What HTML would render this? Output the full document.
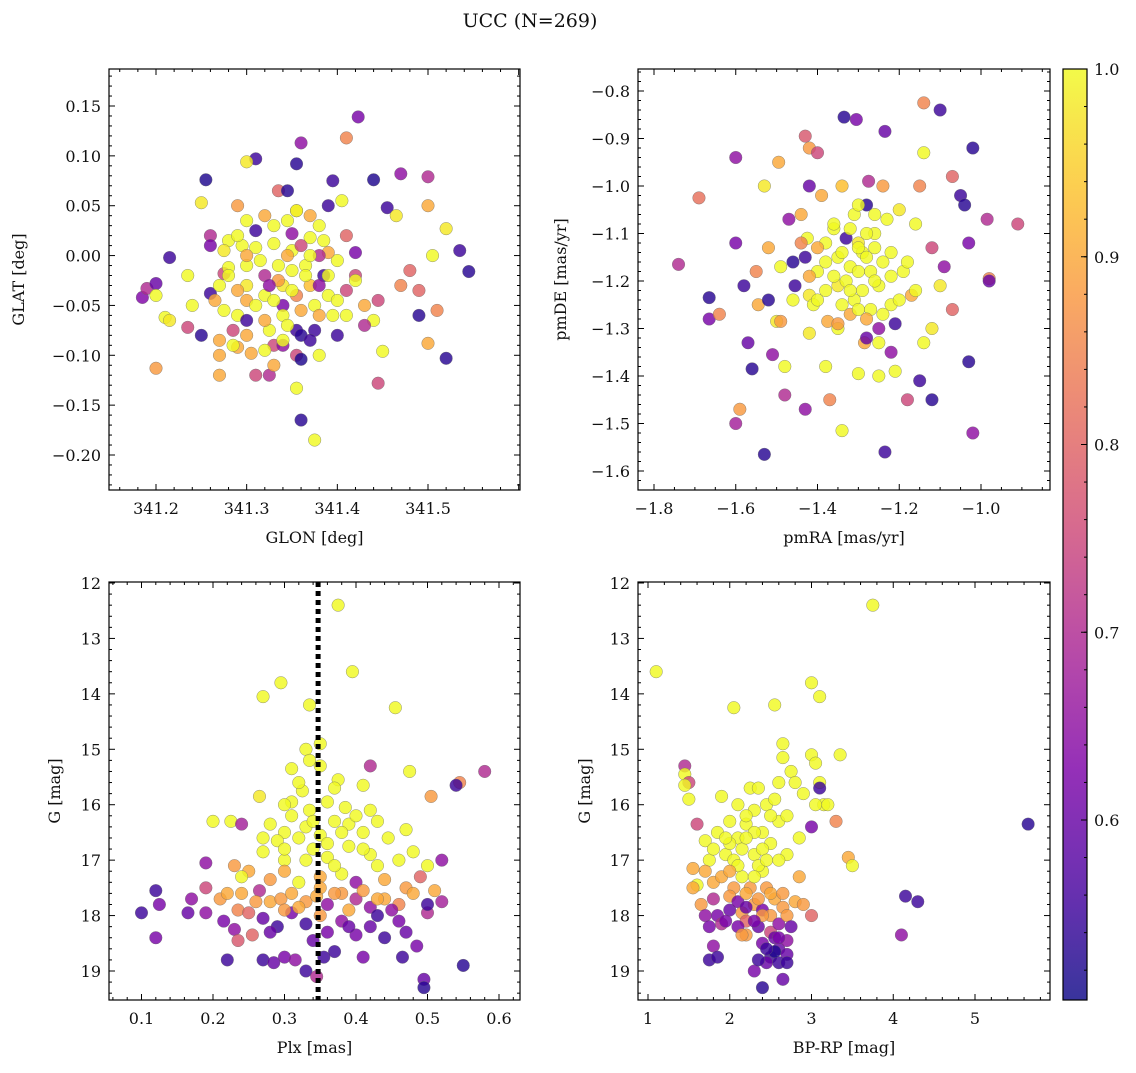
<!DOCTYPE html>
<html><head><meta charset="utf-8"><style>
html,body{margin:0;padding:0;background:#fff;}
svg text{font-family:"DejaVu Serif","Liberation Serif",serif;fill:#111;}
</style></head><body>
<svg id="fig" xmlns="http://www.w3.org/2000/svg" width="1136" height="1068" viewBox="0 0 1136 1068">
<rect width="1136" height="1068" fill="#fff"/>
<text x="530" y="27" font-size="19" text-anchor="middle">UCC (N=269)</text>
<g id="layer"></g>
</svg>
<script>
// ---- Panel 1: GLON / GLAT ----
const p1Lon=[341.255,341.310,341.355,341.36,341.41,341.423,341.395,341.44,341.47,341.50,341.335,341.30,341.405,341.25,341.29,341.32,341.355,341.39,341.455,341.465,341.50,341.52,341.535,341.545,341.505,341.48,341.49,341.47,341.445,341.43,341.42,341.40,341.44,341.45,341.445,341.49,341.50,341.51,341.52,341.185,341.19,341.20,341.20,341.215,341.21,341.215,341.20,341.235,341.24,341.235,341.25,341.26,341.26,341.26,341.275,341.27,341.275,341.27,341.27,341.27,341.28,341.275,341.28,341.29,341.285,341.29,341.295,341.30,341.30,341.30,341.305,341.31,341.31,341.315,341.32,341.32,341.325,341.33,341.325,341.33,341.335,341.34,341.34,341.34,341.345,341.35,341.35,341.35,341.355,341.355,341.355,341.355,341.36,341.36,341.365,341.37,341.37,341.375,341.375,341.38,341.375,341.38,341.385,341.39,341.39,341.395,341.40,341.41,341.41,341.42,341.43,341.345,341.30,341.34,341.36,341.38,
341.28,341.29,341.30,341.31,341.32,341.33,341.335,341.345,341.35,341.36,341.365,341.37,341.38,341.385,341.39,341.33,341.31,341.29,341.265,341.285,341.30,341.34,341.37,341.36,341.325,341.345,341.40,341.41,341.42,341.355,341.37,341.32,341.33,341.38,341.30];
const p1Lat=[0.076,0.097,0.092,0.113,0.118,0.139,0.075,0.076,0.082,0.079,0.065,0.094,0.055,0.053,0.050,0.040,0.045,0.050,0.048,0.040,0.050,0.027,0.005,-0.016,0.000,-0.015,-0.035,-0.030,-0.045,-0.050,-0.020,-0.005,-0.065,-0.096,-0.128,-0.060,-0.088,-0.055,-0.103,-0.042,-0.033,-0.028,-0.040,-0.002,-0.062,-0.065,-0.113,-0.020,-0.05,-0.072,-0.080,0.020,0.010,-0.038,-0.018,-0.03,-0.055,-0.085,-0.100,-0.120,0.015,0.005,-0.012,-0.06,-0.075,-0.092,0.010,-0.030,-0.045,-0.065,-0.098,-0.120,0.025,-0.005,-0.02,-0.04,-0.075,-0.09,-0.12,0.012,-0.01,-0.03,-0.05,-0.06,0.035,0.022,0.005,-0.015,-0.04,-0.075,-0.100,-0.133,-0.08,-0.165,-0.01,-0.03,0.018,-0.05,-0.075,-0.100,-0.185,0.03,-0.02,0.003,-0.04,-0.06,-0.08,0.02,-0.035,0.003,-0.07,0.065,0.035,-0.09,-0.104,0.0,
-0.02,-0.035,-0.01,-0.05,-0.065,-0.045,-0.025,-0.07,-0.035,-0.055,-0.02,0.0,-0.06,0.015,-0.02,0.03,0.008,0.02,-0.045,-0.09,-0.08,-0.085,-0.085,0.01,-0.03,0.0,-0.045,-0.06,-0.025,0.045,0.04,-0.095,-0.11,-0.03,0.0];
const p1Prob=[0.52,0.55,0.53,0.65,0.85,0.62,0.55,0.52,0.65,0.7,0.8,0.98,1.0,0.98,0.88,0.9,0.92,0.55,0.55,0.98,0.9,0.98,0.55,0.53,1.0,0.8,0.8,0.85,0.75,0.9,0.75,1.0,1.0,1.0,0.75,0.53,0.9,0.85,0.53,0.63,0.7,0.6,1.0,0.55,1.0,0.98,0.88,1.0,1.0,0.75,0.53,0.7,0.62,0.55,0.75,1.0,1.0,0.9,0.9,0.9,1.0,0.98,1.0,1.0,0.75,0.9,1.0,0.98,0.9,0.55,0.9,0.75,0.55,1.0,0.7,1.0,1.0,0.75,0.7,1.0,1.0,0.98,0.62,1.0,1.0,0.65,1.0,1.0,0.85,0.55,0.75,1.0,0.53,0.53,1.0,0.93,1.0,1.0,0.55,1.0,1.0,1.0,0.55,0.9,1.0,1.0,0.55,0.8,0.75,0.62,0.7,0.53,1.0,0.65,0.52,0.7,
1.0,0.9,1.0,1.0,0.9,1.0,0.88,1.0,1.0,0.9,1.0,1.0,0.9,1.0,1.0,1.0,1.0,1.0,0.9,1.0,0.9,1.0,0.55,0.75,0.65,0.9,1.0,1.0,1.0,1.0,0.9,1.0,0.9,0.65,0.9];
// ---- Panel 2: pmRA / pmDE ----
const p2Ra=[-1.74,-1.69,-1.665,-1.665,-1.64,-1.60,-1.60,-1.58,-1.59,-1.60,-1.57,-1.56,-1.55,-1.545,-1.53,-1.52,-1.52,-1.51,-1.50,-1.53,-1.49,-1.495,-1.49,-1.48,-1.48,-1.47,-1.46,-1.455,-1.43,-1.43,-1.44,-1.42,-1.42,-1.425,-1.42,-1.42,-1.43,-1.41,-1.40,-1.40,-1.39,-1.38,-1.375,-1.38,-1.37,-1.36,-1.35,-1.35,-1.35,-1.34,-1.34,-1.335,-1.33,-1.32,-1.32,-1.31,-1.305,-1.30,-1.30,-1.29,-1.29,-1.285,-1.28,-1.275,-1.27,-1.27,-1.26,-1.25,-1.25,-1.25,-1.24,-1.235,-1.235,-1.23,-1.22,-1.22,-1.22,-1.21,-1.21,-1.20,-1.19,-1.18,-1.17,-1.16,-1.15,-1.15,-1.14,-1.14,-1.14,-1.12,-1.12,-1.12,-1.10,-1.10,-1.09,-1.07,-1.07,-1.05,-1.04,-1.03,-1.03,-1.02,-1.02,-0.985,-0.98,-0.98,-0.91,-1.33,-1.26,-1.31,-1.28,
-1.38,-1.36,-1.34,-1.32,-1.30,-1.28,-1.26,-1.24,-1.22,-1.30,-1.34,-1.38,-1.40,-1.36,-1.32,-1.28,-1.26,-1.30,-1.24,-1.28,-1.40,-1.42,-1.18,-1.16,-1.20,-1.44,-1.46,-1.35,-1.25,-1.30];
const p2De=[-1.165,-1.025,-1.235,-1.28,-1.27,-0.94,-1.12,-1.21,-1.47,-1.50,-1.33,-1.385,-1.18,-1.25,-1.00,-1.13,-1.24,-1.355,-1.285,-1.565,-1.285,-0.95,-1.17,-1.38,-1.44,-1.07,-1.16,-1.21,-0.895,-1.15,-1.06,-0.92,-1.00,-1.11,-1.23,-1.31,-1.47,-1.25,-1.18,-0.93,-1.02,-1.12,-1.285,-1.38,-1.45,-1.09,-1.15,-1.21,-1.30,-1.515,-1.00,-0.855,-1.20,-1.17,-1.27,-1.06,-0.86,-1.12,-1.395,-1.14,-1.22,-1.33,-1.04,-0.99,-1.18,-1.26,-1.10,-1.21,-1.30,-1.40,-1.00,-0.885,-1.56,-1.07,-1.14,-1.25,-1.35,-1.29,-1.39,-1.05,-1.18,-1.45,-1.23,-1.08,-1.00,-1.41,-1.33,-0.93,-0.825,-1.13,-1.30,-1.45,-0.84,-1.21,-1.17,-0.98,-1.26,-1.02,-1.04,-1.12,-1.37,-0.92,-1.52,-1.07,-1.195,-1.20,-1.08,-1.11,-1.13,-1.24,-1.32,
-1.16,-1.19,-1.14,-1.22,-1.18,-1.15,-1.20,-1.16,-1.19,-1.26,-1.25,-1.22,-1.13,-1.08,-1.09,-1.10,-1.06,-1.04,-1.27,-1.28,-1.24,-1.19,-1.16,-1.22,-1.24,-1.12,-1.24,-1.29,-1.33,-1.13];
const p2Prob=[0.7,0.82,0.53,0.62,0.85,0.65,0.62,0.55,0.88,0.68,0.6,0.53,0.85,0.9,0.98,0.9,0.53,0.65,0.98,0.53,0.88,0.9,1.0,1.0,0.7,0.65,0.53,0.55,0.78,0.55,0.9,0.88,0.6,1.0,0.98,0.98,0.65,1.0,1.0,0.75,0.9,1.0,0.9,1.0,0.85,1.0,1.0,0.98,1.0,1.0,0.93,0.53,1.0,1.0,0.9,1.0,0.62,0.98,1.0,1.0,1.0,0.9,0.53,0.7,1.0,1.0,1.0,1.0,0.65,1.0,0.88,0.6,0.55,1.0,1.0,1.0,0.65,0.55,1.0,0.98,1.0,0.75,0.9,1.0,0.85,0.55,1.0,1.0,0.85,0.75,0.98,0.53,0.55,0.98,0.65,0.8,0.8,0.55,0.53,0.62,0.53,0.53,0.65,0.7,0.85,0.6,0.75,0.55,1.0,1.0,0.6,
1.0,1.0,1.0,1.0,1.0,1.0,1.0,1.0,1.0,1.0,1.0,1.0,0.9,1.0,1.0,1.0,1.0,1.0,1.0,0.9,1.0,0.9,1.0,1.0,1.0,0.85,1.0,0.88,1.0,1.0];
// ---- Panel 3: Plx / G ----
const p3Plx=[0.375,0.295,0.395,0.27,0.335,0.455,0.35,0.33,0.335,0.35,0.31,0.42,0.475,0.58,0.545,0.54,0.375,0.37,0.265,0.325,0.31,0.41,0.505,0.20,0.225,0.24,0.28,0.3,0.33,0.35,0.37,0.39,0.41,0.43,0.445,0.47,0.29,0.27,0.3,0.34,0.36,0.39,0.42,0.46,0.48,0.50,0.52,0.19,0.23,0.25,0.24,0.28,0.30,0.32,0.35,0.38,0.4,0.44,0.47,0.49,0.51,0.17,0.19,0.21,0.22,0.235,0.265,0.28,0.295,0.31,0.33,0.345,0.36,0.38,0.4,0.42,0.44,0.46,0.48,0.50,0.52,0.12,0.10,0.125,0.12,0.165,0.19,0.215,0.23,0.235,0.255,0.27,0.29,0.31,0.33,0.35,0.38,0.40,0.42,0.44,0.46,0.47,0.485,0.22,0.27,0.285,0.30,0.315,0.33,0.355,0.41,0.465,0.495,0.495,0.55,0.50,0.345,0.335,0.385,0.42,
0.31,0.32,0.34,0.36,0.38,0.40,0.3,0.33,0.37,0.41,0.43,0.27,0.35,0.37,0.39,0.41,0.43,0.32,0.30,0.26,0.24,0.45,0.39,0.36,0.43,0.25,0.28,0.34,0.37,0.3,0.36,0.32];
const p3G=[12.4,13.8,13.6,14.05,14.2,14.25,14.9,15.0,15.2,15.3,15.35,15.3,15.4,15.4,15.6,15.65,15.55,15.7,15.85,15.75,15.95,15.65,15.85,16.3,16.3,16.35,16.35,16.5,16.4,16.55,16.3,16.35,16.5,16.3,16.6,16.45,16.65,16.85,17.0,16.8,16.95,16.75,16.9,17.0,16.85,17.1,17.0,17.05,17.1,17.2,17.3,17.35,17.2,17.4,17.3,17.25,17.4,17.35,17.5,17.3,17.55,17.7,17.5,17.7,17.6,17.9,17.55,17.75,17.7,17.6,17.75,17.65,17.8,17.6,17.7,17.85,17.7,17.8,17.6,17.95,17.75,17.55,17.95,17.8,18.4,17.95,17.95,18.1,18.25,18.45,18.35,18.05,18.2,17.95,18.15,18.0,18.1,18.35,18.2,18.4,18.1,18.3,18.55,18.8,18.8,18.85,18.75,18.8,19.0,18.75,18.75,18.75,19.15,19.3,18.9,17.8,19.1,16.1,16.05,16.1,
16.2,16.6,16.3,16.7,16.5,16.2,16.8,17.0,17.1,16.8,17.1,16.6,17.5,17.6,17.9,17.55,17.7,17.85,17.9,17.75,17.6,17.9,18.2,18.3,18.0,17.95,18.3,18.45,18.65,16.0,15.95,15.6];
const p3Prob=[1.0,1.0,1.0,1.0,1.0,1.0,1.0,1.0,1.0,1.0,1.0,0.7,1.0,0.7,0.85,0.55,1.0,1.0,0.98,1.0,1.0,1.0,0.88,1.0,1.0,0.68,1.0,1.0,1.0,1.0,1.0,1.0,1.0,1.0,1.0,1.0,1.0,1.0,1.0,1.0,1.0,1.0,1.0,1.0,1.0,1.0,0.65,0.65,0.88,0.9,1.0,0.88,0.9,1.0,0.9,1.0,0.65,0.9,0.88,0.8,0.9,0.65,0.75,0.88,0.9,0.85,0.7,0.9,0.88,0.9,0.88,0.9,0.65,0.88,0.7,0.65,0.9,0.85,0.9,0.7,0.68,0.55,0.55,0.62,0.62,0.6,0.65,0.62,0.65,0.78,0.8,0.6,0.55,0.62,0.55,0.88,0.65,0.62,0.6,0.55,0.62,0.6,0.62,0.55,0.55,0.6,0.62,0.65,0.55,0.55,0.62,0.55,0.6,0.53,0.53,0.55,0.7,1.0,1.0,1.0,
1.0,1.0,1.0,1.0,1.0,1.0,1.0,1.0,1.0,1.0,1.0,1.0,0.9,0.88,0.9,0.88,0.9,0.9,0.88,0.88,0.9,0.65,0.6,0.62,0.55,0.8,0.6,0.6,0.55,1.0,1.0,1.0];
// ---- Panel 4: BP-RP / G ----
const p4Col=[1.1,3.75,2.05,2.55,3.0,3.1,1.45,1.45,1.5,1.45,1.5,1.6,1.55,1.6,1.55,1.7,1.75,1.8,1.85,1.9,1.95,2.0,2.05,2.05,2.1,2.15,2.2,2.25,2.3,2.3,2.35,2.4,2.4,2.45,2.5,2.55,2.6,2.65,2.65,2.7,2.75,2.8,2.85,3.0,3.05,3.1,3.15,3.1,3.2,3.35,3.3,3.0,3.45,3.5,4.15,4.3,4.1,5.65,1.65,1.7,1.75,1.8,1.85,1.8,1.75,1.85,1.9,2.0,2.0,2.1,2.15,2.2,2.2,2.25,2.3,2.35,2.4,2.4,2.45,2.5,2.5,2.55,2.6,2.6,2.65,2.7,2.7,2.8,2.9,3.0,2.5,2.45,2.4,2.3,2.6,2.65,2.7,2.55,2.0,2.15,2.35,2.6,1.9,
2.1,2.2,2.3,2.2,2.4,2.5,2.3,2.45,2.1,1.95,2.0,2.2,2.35,2.5,2.65,2.7,2.4,2.3,2.2,2.1,2.55,2.45,2.35,2.6,2.75,1.95,2.15,1.7,1.8,2.6,2.7,2.9,3.05,2.85];
const p4G=[13.6,12.4,14.25,14.2,13.8,14.05,15.3,15.45,15.6,15.65,15.9,16.35,17.15,17.45,17.5,16.65,17.0,17.4,16.5,15.85,16.9,16.3,17.0,17.5,16.6,16.8,16.35,15.7,16.1,16.9,15.7,16.5,17.2,16.0,16.7,15.9,16.3,14.9,15.15,16.9,15.4,15.6,16.6,15.1,15.25,15.6,16.0,15.7,16.0,15.1,16.3,16.4,16.95,17.1,17.65,17.75,18.35,16.35,17.8,18.0,18.2,17.7,18.0,18.55,18.8,18.75,18.15,17.9,17.65,17.75,17.95,18.1,18.35,17.5,17.8,18.2,17.9,18.5,17.5,18.0,18.3,17.7,18.6,18.15,17.85,18.45,18.7,17.75,17.8,18.0,18.75,18.85,19.3,19.0,18.85,19.15,18.85,18.65,16.7,17.3,17.1,17.0,17.3,
16.0,16.2,16.5,16.6,16.8,16.2,17.3,17.0,17.1,16.6,17.2,17.6,17.7,17.6,17.6,18.0,18.0,18.1,17.85,18.2,18.4,18.6,18.8,18.4,18.2,18.1,18.35,17.2,16.8,15.6,16.2,15.8,16.0,17.3];
const p4Prob=[1.0,1.0,1.0,1.0,1.0,1.0,0.7,1.0,0.75,1.0,1.0,0.75,0.9,1.0,0.9,1.0,1.0,0.9,1.0,1.0,1.0,1.0,1.0,0.88,1.0,1.0,1.0,1.0,1.0,1.0,1.0,1.0,1.0,1.0,1.0,1.0,1.0,1.0,1.0,1.0,1.0,1.0,1.0,1.0,1.0,1.0,1.0,0.55,1.0,1.0,0.85,0.62,0.9,1.0,0.55,0.55,0.65,0.53,0.88,0.65,0.62,0.7,0.62,0.65,0.55,0.55,0.7,0.6,0.88,0.62,0.88,0.8,0.88,0.88,0.88,0.6,0.62,0.62,0.88,0.88,0.75,0.9,0.6,0.65,0.88,0.65,0.6,0.9,0.88,0.8,0.55,0.6,0.53,0.62,0.55,0.6,0.55,0.52,1.0,1.0,1.0,1.0,0.9,
1.0,1.0,1.0,1.0,1.0,1.0,1.0,1.0,1.0,1.0,0.9,0.9,0.88,0.9,0.88,0.88,0.88,0.62,0.6,0.62,0.6,0.55,0.55,0.62,0.6,0.62,0.88,0.9,1.0,1.0,1.0,1.0,1.0,0.9];
const cbTicks=[0.6,0.7,0.8,0.9,1.0];

const NS="http://www.w3.org/2000/svg";
const layer=document.getElementById('layer');
function mk(tag,attrs,parent){const e=document.createElementNS(NS,tag);for(const k in attrs)e.setAttribute(k,attrs[k]);(parent||layer).appendChild(e);return e;}
const stops=[[0,[13,8,135]],[0.125,[76,2,161]],[0.25,[126,3,168]],[0.375,[169,35,149]],[0.5,[204,71,120]],[0.625,[229,107,93]],[0.75,[248,149,64]],[0.875,[253,195,40]],[1,[240,249,33]]];
function plasma(t){t=Math.max(0,Math.min(1,t));for(let i=1;i<stops.length;i++){if(t<=stops[i][0]){const a=stops[i-1],b=stops[i];const f=(t-a[0])/(b[0]-a[0]);const c=a[1].map((v,j)=>Math.round(v+(b[1][j]-v)*f));return `rgb(${c[0]},${c[1]},${c[2]})`;}}return 'rgb(240,249,33)';}
const VMIN=0.504,VMAX=1.0;
function cmap(v){return plasma((v-VMIN)/(VMAX-VMIN));}
function lin(v0,p0,v1,p1){return v=>p0+(v-v0)*(p1-p0)/(v1-v0);}
function fmt(v,d){let s=v.toFixed(d);if(s.startsWith('-'))s='\u2212'+s.slice(1);return s;}

function panel(o){
  const g=mk('g',{});
  
  
  const {L,R,T,B,sx,sy}=o;
  const pg=mk('g',{},g);
  
  
  for(let i=0;i<o.xs.length;i++){
    const c=mk('circle',{cx:sx(o.xs[i]),cy:sy(o.ys[i]),r:6.3,fill:cmap(o.cs[i]),'fill-opacity':0.82,stroke:'#666','stroke-width':0.5,'stroke-opacity':0.7},pg);
    
    
  }
  if(o.extra)o.extra(g);
  const fr=mk('rect',{x:L,y:T,width:R-L,height:B-T,fill:'none',stroke:'#000','stroke-width':1.2},g);
  
  
  const xmin=Math.min(o.xinv(L),o.xinv(R)),xmax=Math.max(o.xinv(L),o.xinv(R));
  for(let k=Math.ceil(xmin/o.xminor-1e-6);k*o.xminor<=xmax+1e-9;k++){
    const v=k*o.xminor;const px=sx(v);if(px<L||px>R)continue;
    const major=Math.abs(v/o.xmajor-Math.round(v/o.xmajor))<1e-6;const len=major?6:3;
    mk('line',{x1:px,x2:px,y1:B,y2:B-len,stroke:'#000','stroke-width':1},g);
    mk('line',{x1:px,x2:px,y1:T,y2:T+len,stroke:'#000','stroke-width':1},g);
    if(major&&px>L+5&&px<R-5){const t=mk('text',{x:px,y:B+24,'font-size':16,'text-anchor':'middle'},g);t.textContent=fmt(v,o.xdec);
      }
  }
  const ymin=Math.min(o.yinv(T-2),o.yinv(B+2)),ymax=Math.max(o.yinv(T-2),o.yinv(B+2));
  for(let k=Math.ceil(ymin/o.yminor-1e-6);k*o.yminor<=ymax+1e-9;k++){
    const v=k*o.yminor;const py=sy(v);if(py<T-2||py>B+2)continue;
    const major=Math.abs(v/o.ymajor-Math.round(v/o.ymajor))<1e-6;const len=major?6:3;
    mk('line',{x1:L,x2:L+len,y1:py,y2:py,stroke:'#000','stroke-width':1},g);
    mk('line',{x1:R,x2:R-len,y1:py,y2:py,stroke:'#000','stroke-width':1},g);
    if(major){const t=mk('text',{x:L-8,y:py+6,'font-size':16,'text-anchor':'end'},g);t.textContent=fmt(v,o.ydec);
      }
  }
  const xl=mk('text',{x:(L+R)/2,y:B+53,'font-size':16,'text-anchor':'middle'},g);xl.textContent=o.xlabel;
  
  const yx=o.ylx,yy=(T+B)/2;
  const yl=mk('text',{x:yx,y:yy,'font-size':16,'text-anchor':'middle',transform:`rotate(-90 ${yx} ${yy})`},g);yl.textContent=o.ylabel;
  
}

{const sx=lin(341.2,156,341.5,428),sy=lin(0.15,106,-0.2,455);
panel({name:'glon-glat-panel',L:109,R:520,T:69,B:490,sx,sy,xinv:lin(156,341.2,428,341.5),yinv:lin(106,0.15,455,-0.2),
xs:p1Lon,ys:p1Lat,cs:p1Prob,xmajor:0.1,xminor:0.02,xdec:1,ymajor:0.05,yminor:0.01,ydec:2,xlabel:'GLON [deg]',ylabel:'GLAT [deg]',ylx:24});}
{const sx=lin(-1.8,654,-1.0,981),sy=lin(-0.8,91,-1.6,471);
panel({name:'pmra-pmde-panel',L:638,R:1050,T:69,B:490,sx,sy,xinv:lin(654,-1.8,981,-1.0),yinv:lin(91,-0.8,471,-1.6),
xs:p2Ra,ys:p2De,cs:p2Prob,xmajor:0.2,xminor:0.05,xdec:1,ymajor:0.1,yminor:0.02,ydec:1,xlabel:'pmRA [mas/yr]',ylabel:'pmDE [mas/yr]',ylx:566});}
{const sx=lin(0.1,141.5,0.6,499),sy=lin(12,583,19,971);
panel({name:'plx-g-panel',L:109,R:520,T:582,B:1000,sx,sy,xinv:lin(141.5,0.1,499,0.6),yinv:lin(583,12,971,19),
xs:p3Plx,ys:p3G,cs:p3Prob,xmajor:0.1,xminor:0.02,xdec:1,ymajor:1,yminor:0.2,ydec:0,xlabel:'Plx [mas]',ylabel:'G [mag]',ylx:60,
extra:g=>{const px=sx(0.347);const l=mk('line',{x1:px,x2:px,y1:582,y2:1000,stroke:'#000','stroke-width':5,'stroke-dasharray':'5,4'},g);
}});}
{const sx=lin(1,648,5,975),sy=lin(12,583,19,971);
panel({name:'color-magnitude-panel',L:638,R:1050,T:582,B:1000,sx,sy,xinv:lin(648,1,975,5),yinv:lin(583,12,971,19),
xs:p4Col,ys:p4G,cs:p4Prob,xmajor:1,xminor:0.2,xdec:0,ymajor:1,yminor:0.2,ydec:0,xlabel:'BP-RP [mag]',ylabel:'G [mag]',ylx:590});}

{const cg=mk('g',{});
const defs=mk('defs',{},cg);const grad=mk('linearGradient',{id:'cbg',x1:0,y1:1,x2:0,y2:0},defs);
for(let i=0;i<=20;i++){mk('stop',{offset:i/20,'stop-color':plasma(i/20)},grad);}
const L=1063,R=1087,T=69,B=1000;
mk('rect',{x:L,y:T,width:R-L,height:B-T,fill:'url(#cbg)','fill-opacity':0.82},cg);
mk('rect',{x:L,y:T,width:R-L,height:B-T,fill:'none',stroke:'#000','stroke-width':1.2},cg);
const cy=lin(0.6,820,1.0,69);
for(let k=26;k<=50;k++){const v=k*0.02;const py=cy(v);if(py<T||py>B)continue;mk('line',{x1:R,x2:R-3,y1:py,y2:py,stroke:'#000','stroke-width':1},cg);}
for(let i=0;i<cbTicks.length;i++){const py=cy(cbTicks[i]);mk('line',{x1:R,x2:R-6,y1:py,y2:py,stroke:'#000','stroke-width':1},cg);
const t=mk('text',{x:R+7,y:py+6,'font-size':16},cg);t.textContent=cbTicks[i].toFixed(1);
}}
</script>
</body></html>
